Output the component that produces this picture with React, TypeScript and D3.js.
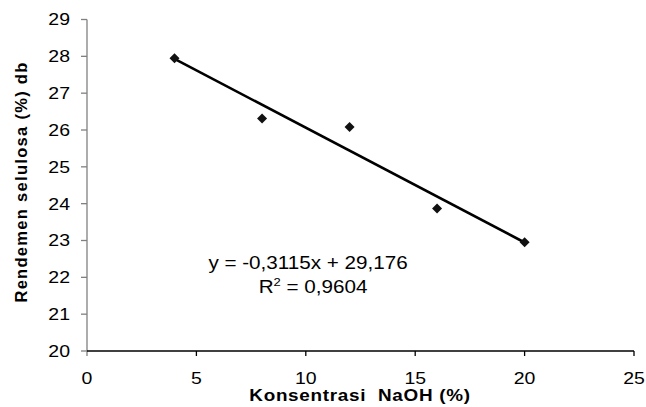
import React from "react";
import * as d3 from "d3";

const xValues = [4, 8, 12, 16, 20];
const yValues = [27.95, 26.31, 26.08, 23.87, 22.95];
const xTicks = [0, 5, 10, 15, 20, 25];
const yTicks = [20, 21, 22, 23, 24, 25, 26, 27, 28, 29];
const trendSlope = -0.3115;
const trendIntercept = 29.176;
const trendRange = [4, 20];
const equationText = "y = -0,3115x + 29,176";
const r2Value = "0,9604";
const xTitle = "Konsentrasi  NaOH (%)";
const yTitle = "Rendemen selulosa (%) db";

const W = 646;
const H = 407;
const FONT = "'Liberation Sans', Arial, sans-serif";
const HS = 1.18; // horizontal stretch of text in the reference

export default function App() {
  const x = d3.scaleLinear().domain([0, 25]).range([87, 634]);
  const y = d3.scaleLinear().domain([20, 29]).range([351, 19.5]);

  const points = xValues.map((v, i) => [v, yValues[i]] as [number, number]);
  const trend = trendRange.map((v) => [v, trendSlope * v + trendIntercept] as [number, number]);
  const line = d3
    .line<[number, number]>()
    .x((d) => x(d[0]))
    .y((d) => y(d[1]));
  const diamond = d3.symbol().type(d3.symbolSquare).size(50)();

  return (
    <svg
      width={W}
      height={H}
      style={{ position: "absolute", left: 0, top: 0, background: "#fff" }}
      fontFamily={FONT}
    >
      <rect x={0} y={0} width={W} height={H} fill="#fff" />
      {/* Y axis (grey) */}
      <line x1={x(0)} x2={x(0)} y1={y(29)} y2={y(20) + 5} stroke="#808080" strokeWidth={1.3} />
      {yTicks.map((t) => (
        <g key={"yt" + t}>
          <line x1={x(0) - 6} x2={x(0)} y1={y(t)} y2={y(t)} stroke="#808080" strokeWidth={1.3} />
          <text
            transform={`translate(70,${y(t)}) scale(${HS},1)`}
            dy="0.36em"
            textAnchor="end"
            fontSize={16.5}
            fill="#000"
          >
            {t}
          </text>
        </g>
      ))}
      {/* X axis (black) */}
      <line x1={x(0)} x2={x(25)} y1={y(20)} y2={y(20)} stroke="#000" strokeWidth={1.3} />
      {xTicks.map((t) => (
        <g key={"xt" + t}>
          {t !== 0 && (
            <line x1={x(t)} x2={x(t)} y1={y(20)} y2={y(20) + 5} stroke="#000" strokeWidth={1.3} />
          )}
          <text
            transform={`translate(${x(t)},378) scale(${HS},1)`}
            dy="0.36em"
            textAnchor="middle"
            fontSize={16.5}
            fill="#000"
          >
            {t}
          </text>
        </g>
      ))}
      {/* Trendline */}
      <path d={line(trend) || ""} fill="none" stroke="#000" strokeWidth={2.6} />
      {/* Markers */}
      {points.map((p, i) => (
        <path
          key={"pt" + i}
          d={diamond || ""}
          transform={`translate(${x(p[0])},${y(p[1])}) rotate(45)`}
          fill="#111"
        />
      ))}
      {/* Equation */}
      <text
        transform={`translate(308,269) scale(${HS},1)`}
        textAnchor="middle"
        fontSize={17.5}
        fill="#000"
      >
        {equationText}
      </text>
      <text
        transform={`translate(313,293) scale(${HS},1)`}
        textAnchor="middle"
        fontSize={17.5}
        fill="#000"
      >
        R
        <tspan dy={-7} fontSize={11}>
          2
        </tspan>
        <tspan dy={7}>{" = " + r2Value}</tspan>
      </text>
      {/* Axis titles */}
      <text
        transform={`translate(360,395) scale(${HS},1)`}
        dy="0.36em"
        textAnchor="middle"
        fontSize={16}
        fontWeight="bold"
        letterSpacing={0.6}
        fill="#000"
        style={{ whiteSpace: "pre" }}
      >
        {xTitle}
      </text>
      <text
        transform={`translate(27,182) rotate(-90)`}
        textAnchor="middle"
        fontSize={16.5}
        fontWeight="bold"
        letterSpacing={1.3}
        fill="#000"
      >
        {yTitle}
      </text>
    </svg>
  );
}
